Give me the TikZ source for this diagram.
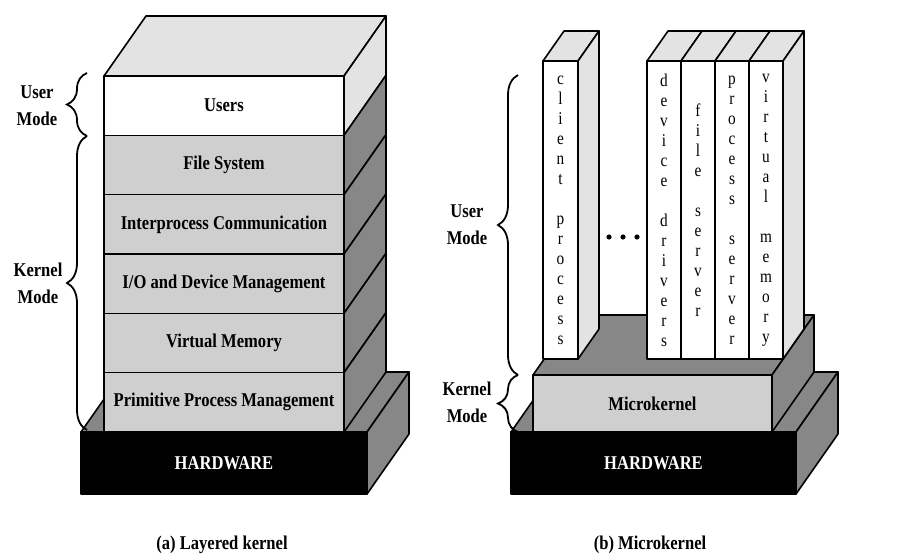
\documentclass[tikz,border=0pt]{standalone}
\usepackage{fontspec}
\setmainfont{Liberation Serif}
\newfontfamily\narrowserif{Liberation Serif}[FakeStretch=0.85]
\usetikzlibrary{decorations.pathreplacing}
\definecolor{lightface}{gray}{0.89}
\definecolor{midface}{gray}{0.81}
\definecolor{darkface}{gray}{0.53}
\tikzset{
  edge/.style={draw=black, line width=1.6pt, line join=round},
  topface/.style={edge, fill=lightface},
  sideface/.style={edge, fill=darkface},
  layer/.style={edge, fill=midface, minimum width=240pt, minimum height=59.33pt, inner sep=0pt,
    font=\narrowserif\bfseries\fontsize{19.5}{22}\selectfont},
  hardware/.style={edge, fill=black, text=white, minimum height=62pt, inner sep=0pt,
    font=\narrowserif\bfseries\fontsize{19.5}{22}\selectfont},
  column/.style={edge, fill=white, minimum height=298pt, inner sep=0pt, align=center,
    font=\narrowserif\fontsize{18}{20}\selectfont},
  modebrace/.style={decorate, decoration={brace, amplitude=20pt}, line width=1.8pt},
  modelabel/.style={align=center, font=\narrowserif\bfseries\fontsize{19.5}{27}\selectfont},
  caption/.style={font=\narrowserif\bfseries\fontsize{19.5}{22}\selectfont}
}
\begin{document}
\begin{tikzpicture}[x=1pt, y=-1pt]
  \useasboundingbox (0,0) rectangle (900,559);

  % (a) layered kernel
  \begin{scope}
    \draw[sideface] (81,432) -- (123,372) -- (409,372) -- (367,432) -- cycle;
    \draw[sideface] (367,432) -- (409,372) -- (409,434) -- (367,494) -- cycle;
    \node[hardware, minimum width=286pt] (hwA) at (224,463) {HARDWARE};

    \draw[topface] (104,76) -- (146,16) -- (386,16) -- (344,76) -- cycle;
    \draw[topface] (344,76) -- ++(42,-60) -- ++(0,59.33) -- (344,135.33) -- cycle;
    \draw[sideface] (344,135.33) -- ++(42,-60) -- ++(0,59.33) -- (344,194.67) -- cycle;
    \draw[sideface] (344,194.67) -- ++(42,-60) -- ++(0,59.33) -- (344,254) -- cycle;
    \draw[sideface] (344,254) -- ++(42,-60) -- ++(0,59.33) -- (344,313.33) -- cycle;
    \draw[sideface] (344,313.33) -- ++(42,-60) -- ++(0,59.33) -- (344,372.67) -- cycle;
    \draw[sideface] (344,372.67) -- ++(42,-60) -- ++(0,59.33) -- (344,432) -- cycle;

    \node[layer, fill=white] (users) at (224,105.67) {Users};
    \node[layer] (files) at (224,165) {File System};
    \node[layer] (ipc) at (224,224.33) {Interprocess Communication};
    \node[layer] (iodev) at (224,283.67) {I/O and Device Management};
    \node[layer] (vmem) at (224,343) {Virtual Memory};
    \node[layer] (prim) at (224,402.33) {Primitive Process Management};

    \draw[modebrace] (87,136) -- (87,73);
    \draw[modebrace] (87,430) -- (87,136);
    \node[modelabel] (userA) at (37,106) {User\\Mode};
    \node[modelabel] (kernelA) at (38,283.5) {Kernel\\Mode};

    \node[caption] (capA) at (222,545) {(a) Layered kernel};
  \end{scope}

  % (b) microkernel
  \begin{scope}
    \draw[sideface] (511,432) -- (553,372) -- (838,372) -- (796,432) -- cycle;
    \draw[sideface] (796,432) -- (838,372) -- (838,434) -- (796,494) -- cycle;
    \node[hardware, minimum width=285pt] (hwB) at (653.5,463) {HARDWARE};

    \draw[sideface] (533,375) -- (575,315) -- (814,315) -- (772,375) -- cycle;
    \draw[sideface] (772,375) -- (814,315) -- (814,372) -- (772,432) -- cycle;
    \node[layer, minimum width=239pt, minimum height=57pt] (micro) at (652.5,403.5) {Microkernel};

    % client column
    \draw[topface] (543,61) -- (564,31) -- (599,31) -- (578,61) -- cycle;
    \draw[topface] (578,61) -- (599,31) -- (599,329) -- (578,359) -- cycle;
    \node[column, minimum width=35pt] (client) at (560.5,210)
      {c\\l\\i\\e\\n\\t\\[20pt]p\\r\\o\\c\\e\\s\\s};

    \fill (609,237) circle (2.6);
    \fill (623,237) circle (2.6);
    \fill (637,237) circle (2.6);

    % server columns
    \draw[topface] (647,61) -- (668,31) -- (702,31) -- (681,61) -- cycle;
    \draw[topface] (681,61) -- (702,31) -- (736,31) -- (715,61) -- cycle;
    \draw[topface] (715,61) -- (736,31) -- (770,31) -- (749,61) -- cycle;
    \draw[topface] (749,61) -- (770,31) -- (804,31) -- (783,61) -- cycle;
    \draw[topface] (783,61) -- (804,31) -- (804,329) -- (783,359) -- cycle;
    \node[column, minimum width=34pt] (devdrv) at (664,210)
      {d\\e\\v\\i\\c\\e\\[20pt]d\\r\\i\\v\\e\\r\\s};
    \node[column, minimum width=34pt] (filesrv) at (698,210)
      {f\\i\\l\\e\\[20pt]s\\e\\r\\v\\e\\r};
    \node[column, minimum width=34pt] (procsrv) at (732,210)
      {p\\r\\o\\c\\e\\s\\s\\[20pt]s\\e\\r\\v\\e\\r};
    \node[column, minimum width=34pt] (virtmem) at (766,210)
      {v\\i\\r\\t\\u\\a\\l\\[20pt]m\\e\\m\\o\\r\\y};

    \draw[modebrace] (518,375) -- (518,75);
    \draw[modebrace] (518,432) -- (518,375);
    \node[modelabel] (userB) at (467,225) {User\\Mode};
    \node[modelabel] (kernelB) at (467,402.5) {Kernel\\Mode};

    \node[caption] (capB) at (650,545) {(b) Microkernel};
  \end{scope}
\end{tikzpicture}
\end{document}
